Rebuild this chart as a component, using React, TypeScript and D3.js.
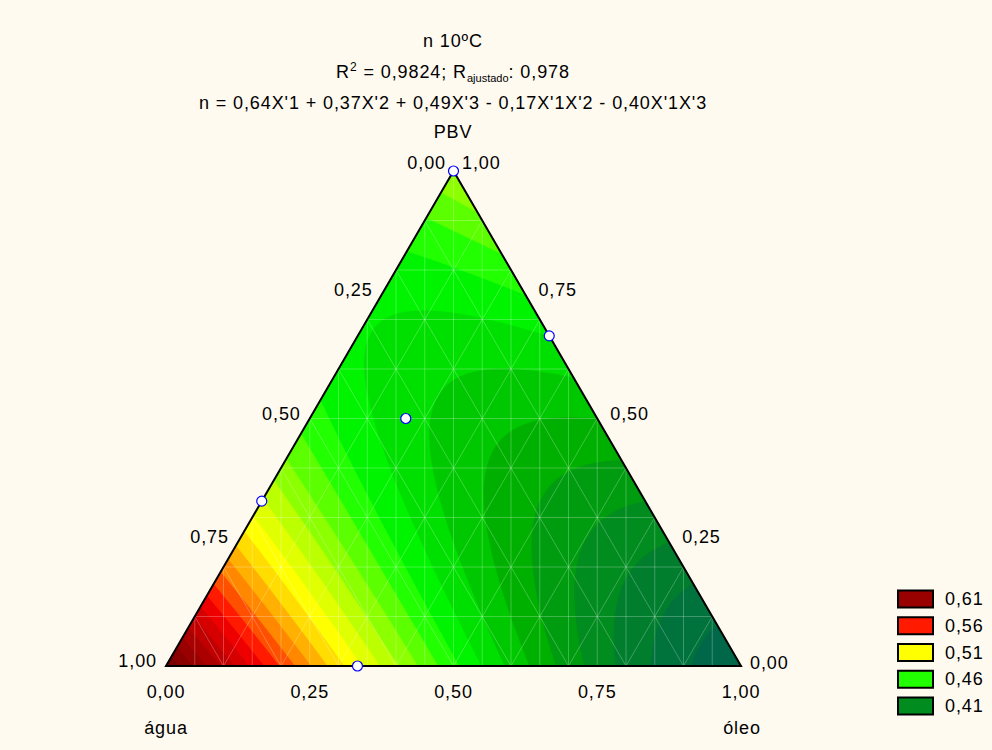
import React from "react";
import * as d3 from "d3";

// ---- data ----
const titleLines = ["n 10ºC"];
const coefLinear = [0.64, 0.37, 0.49]; // água, óleo, PBV
const coefInter12 = -0.17; // água x óleo
const coefInter13 = -0.4; // água x PBV
const legendLevels = ["0,61", "0,56", "0,51", "0,46", "0,41"];
const legendColors = ["#990000", "#ff1a00", "#ffff00", "#22ff00", "#008c1e"];
const colorStops = [0.36, 0.37, 0.38, 0.39, 0.40, 0.41, 0.42, 0.43, 0.44, 0.45, 0.46, 0.47, 0.48, 0.49, 0.5, 0.51, 0.52, 0.53, 0.54, 0.55, 0.56, 0.57, 0.58, 0.59, 0.6, 0.61, 0.62, 0.64];
const colorRange = ["#005e50", "#006848", "#00723c", "#007e2e", "#008c1e", "#009c10", "#00b000", "#00c800", "#00e000", "#00f400", "#22ff00", "#5cff00", "#8cff00", "#bbff00", "#e0ff00", "#ffff00", "#ffdd00", "#ffb000", "#ff8800", "#ff5000", "#ff1a00", "#ee0000", "#d60000", "#c00000", "#ab0000", "#990000", "#880000", "#680000"];
const axisTicks = [0, 0.25, 0.5, 0.75, 1];
const tickText = ["0,00", "0,25", "0,50", "0,75", "1,00"];
// design points: [água, óleo, PBV]
const designPoints = [
  [0, 0, 1],
  [0, 0.333, 0.667],
  [0.333, 0.167, 0.5],
  [0.667, 0, 0.333],
  [0.667, 0.333, 0],
];

// ---- geometry ----
const xA = 166, xO = 741, yB = 666, yT = 171;
const W = xO - xA, H = yB - yT;
const toXY = (a: number, o: number, p: number) => [xA + o * W + p * W / 2, yB - p * H];
const model = (a: number, o: number, p: number) =>
  coefLinear[0] * a + coefLinear[1] * o + coefLinear[2] * p + coefInter12 * a * o + coefInter13 * a * p;

const color = d3.scaleLinear<string>().domain(colorStops).range(colorRange).interpolate(d3.interpolateRgb).clamp(true);

export default function App() {
  const s = 2;
  const gx0 = xA - 4, gy0 = yT - 4;
  const nx = Math.ceil((W + 8) / s), ny = Math.ceil((H + 8) / s);
  const values = new Array(nx * ny);
  for (let j = 0; j < ny; j++) {
    for (let i = 0; i < nx; i++) {
      const x = gx0 + (i + 0.5) * s, y = gy0 + (j + 0.5) * s;
      const p = (yB - y) / H;
      const o = (x - xA - (p * W) / 2) / W;
      const a = 1 - p - o;
      values[j * nx + i] = model(a, o, p);
    }
  }
  const thresholds = d3.range(30, 70).map((v) => v / 100);
  const contours = d3.contours().size([nx, ny]).thresholds(thresholds)(values);
  const path = d3.geoPath();
  const tri = [toXY(1, 0, 0), toXY(0, 1, 0), toXY(0, 0, 1)];
  const triPath = "M" + tri.map((p) => p.join(",")).join("L") + "Z";

  // mesh lines
  const mesh: string[] = [];
  for (let k = 1; k < 10; k++) {
    const p = k / 10;
    const l = toXY(1 - p, 0, p), r = toXY(0, 1 - p, p);
    mesh.push(`M${l[0]},${l[1]}L${r[0]},${r[1]}`);
    const b1 = toXY(1 - p, p, 0), t1 = toXY(0, p, 1 - p);
    mesh.push(`M${b1[0]},${b1[1]}L${t1[0]},${t1[1]}`);
    const b2 = toXY(p, 1 - p, 0), t2 = toXY(p, 0, 1 - p);
    mesh.push(`M${b2[0]},${b2[1]}L${t2[0]},${t2[1]}`);
  }
  for (let k = 1; k < 20; k++) {
    const x = xA + (k * W) / 20;
    mesh.push(`M${x},${yT - 10}L${x},${yB}`);
  }

  const font = "'Liberation Sans', Arial, sans-serif";
  const fs = 18;
  const ls = 0.9;

  return (
    <svg width={992} height={750} style={{ display: "block", position: "absolute", left: 0, top: 0 }} fontFamily={font} letterSpacing={ls}>
      <rect width={992} height={750} fill="#fffaf0" />
      <defs>
        <clipPath id="tri">
          <path d={triPath} />
        </clipPath>
      </defs>
      <g clipPath="url(#tri)">
        <g transform={`translate(${gx0},${gy0}) scale(${s})`}>
          {contours.map((c, i) => (
            <path key={i} d={path(c as any) || ""} fill={color(c.value)} stroke={color(c.value)} strokeWidth={0.3} />
          ))}
        </g>
        <g stroke="#ffffff" strokeOpacity={0.25} strokeWidth={1} fill="none">
          {mesh.map((d, i) => (
            <path key={i} d={d} />
          ))}
        </g>
      </g>
      <path d={triPath} fill="none" stroke="#000" strokeWidth={2} strokeLinejoin="miter" />

      {/* titles */}
      <g fontSize={fs} textAnchor="middle" fill="#000">
        <text x={453} y={47}>{titleLines[0]}</text>
        <text x={453} y={78}>
          R<tspan fontSize={12} dy={-7}>2</tspan>
          <tspan dy={7}> = 0,9824; R</tspan>
          <tspan fontSize={11} letterSpacing={0} dy={4}>ajustado</tspan>
          <tspan dy={-4}>: 0,978</tspan>
        </text>
        <text x={453} y={109}>n = 0,64X'1 + 0,37X'2 + 0,49X'3 - 0,17X'1X'2 - 0,40X'1X'3</text>
        <text x={453} y={138}>PBV</text>
      </g>

      {/* tick labels */}
      <g fontSize={fs} fill="#000">
        {axisTicks.map((t, i) => {
          const [x] = toXY(1 - t, t, 0);
          return (
            <text key={"b" + i} x={x} y={698} textAnchor="middle">{tickText[i]}</text>
          );
        })}
        {axisTicks.map((t, i) => {
          if (t === 0) return null;
          const [x, y] = toXY(t, 0, 1 - t);
          return (
            <text key={"l" + i} x={x - 9} y={y + 1} textAnchor="end">{tickText[i]}</text>
          );
        })}
        <text x={446} y={169} textAnchor="end">{tickText[0]}</text>
        {axisTicks.map((t, i) => {
          if (t === 1) return null;
          const [x, y] = toXY(0, 1 - t, t);
          if (t === 0) return <text key={"r" + i} x={x + 9} y={y + 3} textAnchor="start">{tickText[i]}</text>;
          return (
            <text key={"r" + i} x={x + 13} y={y + 1} textAnchor="start">{tickText[i]}</text>
          );
        })}
        <text x={462} y={169} textAnchor="start">{tickText[4]}</text>
        <text x={166} y={734} textAnchor="middle">água</text>
        <text x={742} y={734} textAnchor="middle">óleo</text>
      </g>

      {/* design points */}
      {designPoints.map((d, i) => {
        const [x, y] = toXY(d[0], d[1], d[2]);
        return <circle key={i} cx={x} cy={y} r={5} fill="#fff" stroke="#0000ff" strokeWidth={1.2} />;
      })}

      {/* legend */}
      <g fontSize={fs}>
        {legendLevels.map((lv, i) => {
          const cy = 599 + i * 26.75;
          return (
            <g key={i}>
              <rect x={898} y={cy - 8.5} width={35} height={17} fill={legendColors[i]} stroke="#000" strokeWidth={2} />
              <text x={945} y={cy + 6}>{lv}</text>
            </g>
          );
        })}
      </g>
    </svg>
  );
}
